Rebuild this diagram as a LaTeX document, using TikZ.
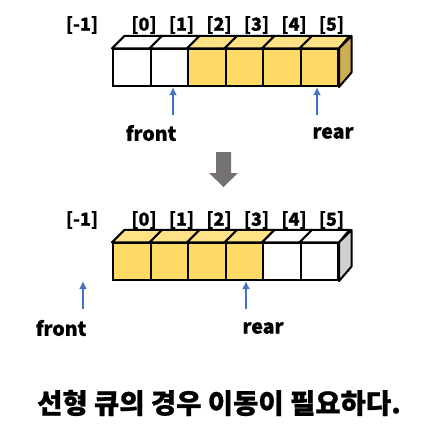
\documentclass[tikz,border=0pt]{standalone}
\usepackage{fontspec}
\setmainfont{Noto Sans CJK KR}[BoldFeatures={FakeBold=0.8}]
\usetikzlibrary{arrows.meta,positioning,calc}
\definecolor{qfill}{HTML}{FFD966}
\definecolor{qtop}{HTML}{FFE285}
\definecolor{qside}{HTML}{CCAE52}
\definecolor{ptrblue}{HTML}{4472C4}
\definecolor{movegray}{HTML}{767171}

\begin{document}
\begin{tikzpicture}[x=1pt,y=-1pt]
\tikzset{
    cell/.style={rectangle,draw,line width=2pt,minimum width=37.5pt,minimum height=36.7pt,inner sep=0pt},
    full/.style={cell,fill=qfill},
    empty/.style={cell,fill=white},
    idx/.style={font=\bfseries\fontsize{18}{18}\selectfont,inner sep=0pt},
    lbl/.style={font=\bfseries\fontsize{19.5}{19.5}\selectfont,inner sep=0pt},
    ptr/.style={-{Latex[length=8pt,width=8pt]},ptrblue,line width=2pt}
}
\useasboundingbox (0,0) rectangle (429,447);
% top queue
\foreach \i/\s in {0/empty,1/empty,2/full,3/full,4/full,5/full}{
  \node[\s] (t\i) at (131.75+37.5*\i,67.7) {};
  \filldraw[line width=2pt,line join=round,fill=\ifnum\i<2 white\else qtop\fi]
    (t\i.north west) -- ++(12.5,-12.5) -- ++(37.5,0) -- (t\i.north east) -- cycle;
  \node[idx] (ti\i) at (144+37.5*\i,25) {[\i]};
}
\filldraw[line width=2pt,line join=round,fill=qside]
  (t5.north east) -- ++(12.5,-12.5) -- ++(0,36.7) -- (t5.south east) -- cycle;
\node[idx] (tim) at (82,25) {[-1]};
% top pointers
\coordinate (tf) at (173,115);
\coordinate (tr) at (317,115);
\draw[ptr] (tf) -- (tf |- t1.south);
\draw[ptr] (tr) -- (tr |- t5.south);
\node[lbl] (tfront) at (151,133) {front};
\node[lbl] (trear) at (333,133) {rear};
% move arrow
\fill[movegray] (216,152) -- (231,152) -- (231,173) -- (238,173) -- (223.5,187)
  -- (209,173) -- (216,173) -- cycle;
% bottom queue
\foreach \i/\s in {0/full,1/full,2/full,3/full,4/empty,5/empty}{
  \node[\s] (b\i) at (131.75+37.5*\i,261.7) {};
  \filldraw[line width=2pt,line join=round,fill=\ifnum\i<4 qtop\else white\fi]
    (b\i.north west) -- ++(12.5,-12.5) -- ++(37.5,0) -- (b\i.north east) -- cycle;
  \node[idx] (bi\i) at (144+37.5*\i,220) {[\i]};
}
\filldraw[line width=2pt,line join=round,fill=black!18]
  (b5.north east) -- ++(12.5,-12.5) -- ++(0,36.7) -- (b5.south east) -- cycle;
\node[idx] (bim) at (82,220) {[-1]};
% bottom pointers
\coordinate (bf) at (83,309);
\coordinate (br) at (246,309);
\draw[ptr] (bf) -- ++(0,-28);
\draw[ptr] (br) -- (br |- b3.south);
\node[lbl] (bfront) at (61,328) {front};
\node[lbl] (brear) at (263,328) {rear};
% caption
\node[font=\bfseries\fontsize{27.5}{27.5}\selectfont,inner sep=0pt] (cap) at (219,403)
  {선형 큐의 경우 이동이 필요하다.};
\end{tikzpicture}
\end{document}
